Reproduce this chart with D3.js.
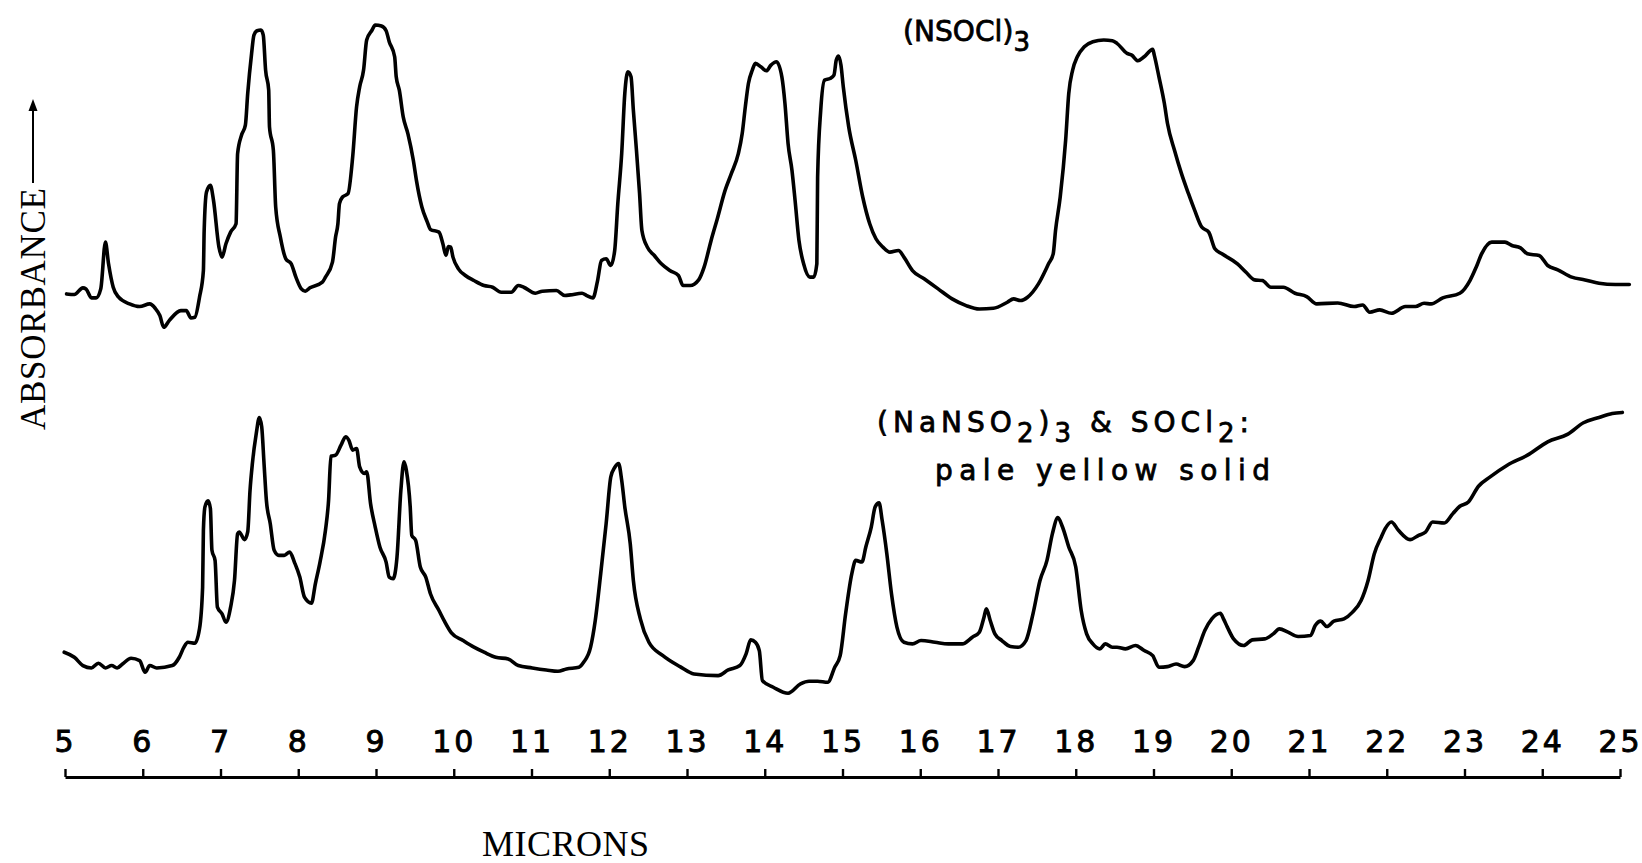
<!DOCTYPE html>
<html>
<head>
<meta charset="utf-8">
<script src="https://cdn.jsdelivr.net/npm/d3@7"></script>
<style>
  html, body { margin: 0; background: #fff; }
  svg { display: block; }
</style>
</head>
<body>
<svg id="chart" width="1642" height="863"></svg>
<script>
// Wavelength ticks (microns)
const micronTicks = [5, 6, 7, 8, 9, 10, 11, 12, 13, 14, 15, 16, 17, 18, 19, 20, 21, 22, 23, 24, 25];

// (NSOCl)3 spectrum: [wavelength in microns, relative absorbance]
const nsoclSpectrum = [
  [5.02,60.73],[5.12,60.64],[5.23,61.60],[5.27,61.45],[5.34,60.16],[5.40,60.16],[5.46,61.45],[5.52,68.15],[5.56,65.04],
  [5.62,61.69],[5.69,60.26],[5.83,59.30],[5.96,58.92],[6.09,59.30],[6.16,58.68],[6.22,57.63],[6.27,55.95],[6.34,56.91],
  [6.49,58.34],[6.56,58.34],[6.62,57.29],[6.67,57.39],[6.73,60.26],[6.78,64.08],[6.79,69.82],[6.82,75.32],[6.87,76.28],
  [6.91,74.13],[6.98,67.43],[7.02,66.00],[7.07,67.91],[7.13,69.58],[7.20,70.78],[7.22,80.82],[7.27,83.45],[7.32,84.89],
  [7.35,89.43],[7.40,95.17],[7.43,97.80],[7.47,98.42],[7.52,98.52],[7.55,97.80],[7.58,92.78],[7.62,89.91],[7.63,84.65],
  [7.68,81.30],[7.71,73.17],[7.77,68.87],[7.84,65.76],[7.91,65.04],[7.97,63.13],[8.04,61.45],[8.09,61.12],[8.15,61.60],
  [8.31,62.41],[8.35,63.13],[8.44,65.28],[8.48,68.87],[8.51,70.78],[8.53,73.65],[8.57,74.61],[8.64,75.08],[8.70,80.35],
  [8.75,87.52],[8.79,90.39],[8.84,92.78],[8.88,97.09],[8.95,98.52],[8.99,99.24],[9.07,99.09],[9.13,98.42],[9.17,96.85],
  [9.24,94.69],[9.26,91.82],[9.30,89.91],[9.35,86.08],[9.41,83.69],[9.48,79.87],[9.52,76.99],[9.59,73.17],[9.66,71.02],
  [9.70,69.97],[9.81,69.58],[9.86,67.91],[9.90,66.23],[9.93,67.53],[9.96,67.43],[9.99,66.00],[10.06,64.32],[10.15,63.37],
  [10.26,62.65],[10.39,61.93],[10.50,61.69],[10.61,60.97],[10.74,60.97],[10.83,61.93],[10.90,61.69],[11.05,60.83],
  [11.14,61.12],[11.32,61.21],[11.43,60.50],[11.50,60.59],[11.65,60.83],
  [11.71,60.50],[11.79,60.16],[11.85,62.65],[11.90,65.52],[11.96,65.76],[12.02,64.80],[12.07,66.95],[12.11,73.65],
  [12.16,80.82],[12.20,89.43],[12.24,92.54],[12.28,91.82],[12.31,87.04],[12.35,81.30],[12.39,75.08],[12.42,69.82],
  [12.49,67.43],[12.58,66.23],[12.67,65.04],[12.78,64.08],[12.89,63.37],[12.95,61.93],[13.04,61.93],[13.15,62.74],
  [13.22,64.56],[13.31,68.39],[13.39,71.50],[13.49,75.56],[13.57,77.95],[13.66,80.82],[13.71,83.69],[13.75,87.52],
  [13.79,90.87],[13.84,92.78],[13.88,93.74],[13.95,93.26],[14.02,92.68],[14.08,93.50],[14.15,93.98],[14.22,91.82],
  [14.26,87.99],[14.30,82.26],[14.35,78.43],[14.39,74.13],[14.44,68.39],[14.50,65.04],[14.58,63.13],[14.63,63.13],
  [14.67,65.04],[14.68,77.47],[14.72,87.04],[14.77,91.35],[14.84,91.58],[14.89,92.06],[14.92,94.22],[14.95,94.79],
  [14.98,93.50],[15.01,90.39],[15.08,84.65],[15.17,79.87],[15.26,74.61],[15.35,70.78],[15.43,68.63],[15.52,67.43],
  [15.61,66.71],[15.72,66.95],[15.79,66.00],[15.90,64.08],[16.05,62.89],[16.23,61.45],[16.41,60.02],[16.59,59.06],
  [16.76,58.58],[16.94,58.68],[17.12,59.54],[17.20,60.02],[17.29,59.78],[17.38,60.26],[17.52,62.17],[17.65,65.04],
  [17.71,66.47],[17.74,69.82],[17.80,74.61],[17.87,82.74],[17.91,89.43],[17.96,92.78],[18.02,94.69],[18.11,96.13],
  [18.22,96.85],[18.36,97.09],[18.47,96.99],
  [18.53,96.61],[18.66,95.17],[18.72,94.93],[18.80,94.12],[18.88,94.69],[18.99,95.75],[19.01,94.93],[19.07,91.82],
  [19.14,87.99],[19.18,85.13],[19.27,81.30],[19.36,77.95],[19.45,75.08],[19.53,72.69],[19.62,70.30],[19.71,69.58],
  [19.79,67.19],[19.88,66.47],[20.08,65.04],[20.19,63.84],[20.30,62.74],[20.40,62.65],[20.51,61.69],[20.67,61.69],
  [20.82,60.83],[20.97,60.35],[21.10,59.30],[21.37,59.44],[21.58,58.92],[21.69,59.15],[21.78,58.11],[21.91,58.44],
  [22.06,57.96],[22.24,58.92],[22.37,58.92],[22.48,59.39],[22.57,59.30],[22.72,60.16],[22.94,60.83],[23.07,62.65],
  [23.15,64.56],[23.22,66.47],[23.35,68.15],[23.52,68.15],[23.61,67.67],[23.72,67.33],[23.81,66.47],[23.96,66.23],
  [24.07,64.80],[24.20,64.18],[24.38,63.13],[24.55,62.74],[24.73,62.26],[24.94,62.07],[25.12,62.07]
];

// (NaNSO2)3 + SOCl2 product spectrum: [wavelength in microns, relative absorbance]
const productSpectrum = [
  [4.99,9.42],[5.12,8.70],[5.23,7.51],[5.34,7.17],[5.43,7.84],[5.52,7.17],[5.60,7.51],[5.67,7.17],[5.74,7.74],
  [5.85,8.56],[5.96,8.22],[6.03,6.55],[6.09,7.51],[6.18,7.17],[6.38,7.51],[6.47,8.70],[6.53,10.14],[6.58,10.85],
  [6.67,10.71],[6.73,12.77],[6.77,18.75],[6.78,26.88],[6.80,30.23],[6.84,31.09],[6.87,29.99],[6.89,24.01],[6.93,22.57],
  [6.96,15.88],[7.02,14.92],[7.07,13.72],[7.13,15.88],[7.18,19.70],[7.22,26.40],[7.24,26.64],[7.31,25.54],[7.35,26.64],
  [7.38,32.62],[7.41,36.44],[7.46,40.75],[7.50,43.04],[7.53,41.70],[7.56,36.44],[7.59,31.18],[7.64,27.83],[7.69,24.01],
  [7.75,23.29],[7.82,23.29],[7.89,23.77],[7.95,22.33],[8.02,20.18],[8.08,17.31],[8.17,16.45],[8.22,19.22],[8.28,22.33],
  [8.35,26.88],[8.39,31.18],[8.42,37.49],[8.48,37.64],[8.55,39.07],[8.61,40.27],[8.65,39.79],[8.70,38.36],[8.75,38.60],
  [8.79,35.96],[8.85,35.01],[8.88,35.25],[8.93,30.70],[8.99,27.35],[9.05,24.49],[9.13,22.33],[9.17,20.18],[9.22,19.94],
  [9.27,23.05],[9.32,32.62],[9.36,36.68],[9.39,35.49],[9.44,30.22],[9.46,26.16],[9.51,25.44],[9.57,21.62],[9.64,20.18],
  [9.70,17.79],[9.81,15.40],[9.88,13.87],[9.97,12.19],[10.12,11.09],[10.26,10.14],[10.39,9.42],[10.54,8.70],[10.70,8.46],
  [10.83,7.51],[11.01,7.17],[11.19,6.88],[11.34,6.69],[11.45,7.03],[11.61,7.27],
  [11.67,7.98],[11.76,10.14],[11.82,13.96],[11.89,20.66],[11.96,27.83],[12.02,34.53],[12.07,35.87],[12.12,36.44],
  [12.16,34.05],[12.20,30.23],[12.27,24.96],[12.31,19.70],[12.40,14.20],[12.51,10.85],[12.69,8.94],[12.91,7.36],
  [13.09,6.31],[13.40,6.07],[13.53,6.88],[13.68,7.51],[13.76,9.18],[13.82,11.19],[13.88,10.85],[13.93,9.66],[13.97,5.35],
  [14.11,4.40],[14.30,3.54],[14.46,4.88],[14.57,5.26],[14.68,5.26],[14.81,5.11],[14.90,7.27],[14.97,8.94],[15.04,14.92],
  [15.12,20.66],[15.17,22.57],[15.25,22.33],[15.30,24.49],[15.37,27.35],[15.42,30.23],[15.47,30.80],[15.51,28.31],
  [15.57,23.53],[15.63,17.79],[15.70,13.01],[15.79,10.85],[15.90,10.61],[16.01,11.09],[16.19,10.85],[16.36,10.61],
  [16.54,10.61],[16.67,11.57],[16.76,12.29],[16.82,14.44],[16.85,15.64],[16.90,13.96],[16.96,12.05],[17.05,11.09],
  [17.16,10.23],[17.26,10.14],[17.36,11.09],[17.45,14.92],[17.54,19.70],[17.63,22.57],[17.70,26.40],[17.77,28.69],
  [17.83,27.35],[17.91,24.49],[18.00,21.62],[18.07,15.40],[18.14,12.05],[18.22,10.61],[18.31,9.90],[18.38,10.61],
  [18.47,10.14],
  [18.53,10.14],[18.64,9.90],[18.77,10.38],[18.88,9.66],[18.99,8.94],[19.07,7.27],[19.18,7.36],[19.29,7.74],[19.40,7.36],
  [19.51,8.22],[19.58,10.14],[19.66,12.53],[19.75,14.20],[19.86,15.01],[19.90,14.20],[19.95,13.01],[20.03,11.33],
  [20.16,10.38],[20.27,11.19],[20.43,11.33],[20.54,12.05],[20.62,12.77],[20.73,12.29],[20.86,11.67],[21.02,11.81],
  [21.08,13.24],[21.15,13.87],[21.23,13.10],[21.32,13.87],[21.45,14.20],[21.56,15.16],[21.67,16.83],[21.76,19.70],
  [21.84,23.53],[21.93,25.92],[21.98,27.12],[22.06,28.07],[22.15,26.88],[22.30,25.54],[22.41,26.16],[22.50,26.64],
  [22.59,28.07],[22.74,27.93],[22.85,29.27],[22.94,30.32],[23.05,30.94],[23.18,33.19],[23.33,34.53],[23.55,36.20],
  [23.81,37.64],[24.07,39.55],[24.33,40.65],[24.53,42.28],[24.73,43.04],[24.90,43.62],[25.03,43.76]
];

// Sample labels: text runs, subscript runs flagged
const nsoclLabel = [["(NSOCl)", false], ["3", true]];
const productLabel = [["(NaNSO", false], ["2", true], [")", false], ["3", true], [" & SOCl", false], ["2", true], [":", false]];
const productNote = "pale yellow solid";
const xTitle = "MICRONS";
const yTitle = "ABSORBANCE";

const svg = d3.select("#chart");
svg.append("rect").attr("width", 1642).attr("height", 863).attr("fill", "#fff");

const x = d3.scaleLinear().domain([5, 25]).range([65, 1620]);
const y = d3.scaleLinear().domain([0, 100]).range([718, 19.7]);

const trace = d3.line()
  .x(d => x(d[0]))
  .y(d => y(d[1]))
  .curve(d3.curveMonotoneX);

[nsoclSpectrum, productSpectrum].forEach(spec => {
  svg.append("path")
    .datum(spec)
    .attr("d", trace)
    .attr("fill", "none")
    .attr("stroke", "#000")
    .attr("stroke-width", 3.6)
    .attr("stroke-linejoin", "round")
    .attr("stroke-linecap", "round");
});

// Wavelength axis: ticks point up, numbers above the rule
const axis = d3.axisTop(x)
  .tickValues(micronTicks)
  .tickFormat(d3.format("d"))
  .tickSizeInner(8)
  .tickSizeOuter(0)
  .tickPadding(17);

const gAxis = svg.append("g")
  .attr("transform", "translate(0,777)")
  .call(axis)
  .attr("font-family", "'DejaVu Sans', sans-serif")
  .attr("font-size", 30);
gAxis.select(".domain").attr("stroke", "#000").attr("stroke-width", 2.8);
gAxis.selectAll(".tick line").attr("stroke", "#000").attr("stroke-width", 2.4);
gAxis.selectAll(".tick text")
  .attr("fill", "#000")
  .attr("stroke", "#000")
  .attr("stroke-width", 0.9)
  .style("letter-spacing", "3px");

// Spread a text element's letters so it spans the given width
function spreadTo(sel, width) {
  const node = sel.node();
  const n = node.getNumberOfChars();
  const w = node.getComputedTextLength();
  sel.style("letter-spacing", ((width - w) / Math.max(1, n - 1)) + "px");
}

function formula(runs, x0, y0, width, size) {
  const t = svg.append("text")
    .attr("x", x0).attr("y", y0)
    .attr("font-family", "'DejaVu Sans', sans-serif")
    .attr("font-size", size)
    .attr("fill", "#000")
    .attr("stroke", "#000")
    .attr("stroke-width", 0.8)
    .style("white-space", "pre");
  let shifted = 0;
  runs.forEach(([s, sub]) => {
    const target = sub ? 10 : 0;
    t.append("tspan")
      .attr("dy", target - shifted)
      .attr("font-size", sub ? size - 2 : size)
      .text(s);
    shifted = target;
  });
  spreadTo(t, width);
  return t;
}

formula(nsoclLabel, 903, 41, 127, 28);
formula(productLabel, 877, 432, 372, 28);

const note = svg.append("text")
  .attr("x", 935).attr("y", 480)
  .attr("font-family", "'DejaVu Sans', sans-serif")
  .attr("font-size", 28)
  .attr("fill", "#000")
  .attr("stroke", "#000")
  .attr("stroke-width", 0.8)
  .text(productNote);
spreadTo(note, 335);

// Axis titles
const xt = svg.append("text")
  .attr("x", 482).attr("y", 856)
  .attr("font-family", "'Liberation Serif', serif")
  .attr("font-size", 36)
  .attr("fill", "#000")
  .text(xTitle);
spreadTo(xt, 167);

const yt = svg.append("text")
  .attr("transform", "translate(45,430) rotate(-90)")
  .attr("font-family", "'Liberation Serif', serif")
  .attr("font-size", 35)
  .attr("fill", "#000")
  .text(yTitle);
spreadTo(yt, 242);

// Arrow beside the absorbance title
svg.append("path")
  .attr("d", "M33,183V104")
  .attr("stroke", "#000").attr("stroke-width", 2).attr("fill", "none");
svg.append("path")
  .attr("d", "M28.5,111L33,99L37.5,111Z")
  .attr("fill", "#000");
</script>
</body>
</html>
